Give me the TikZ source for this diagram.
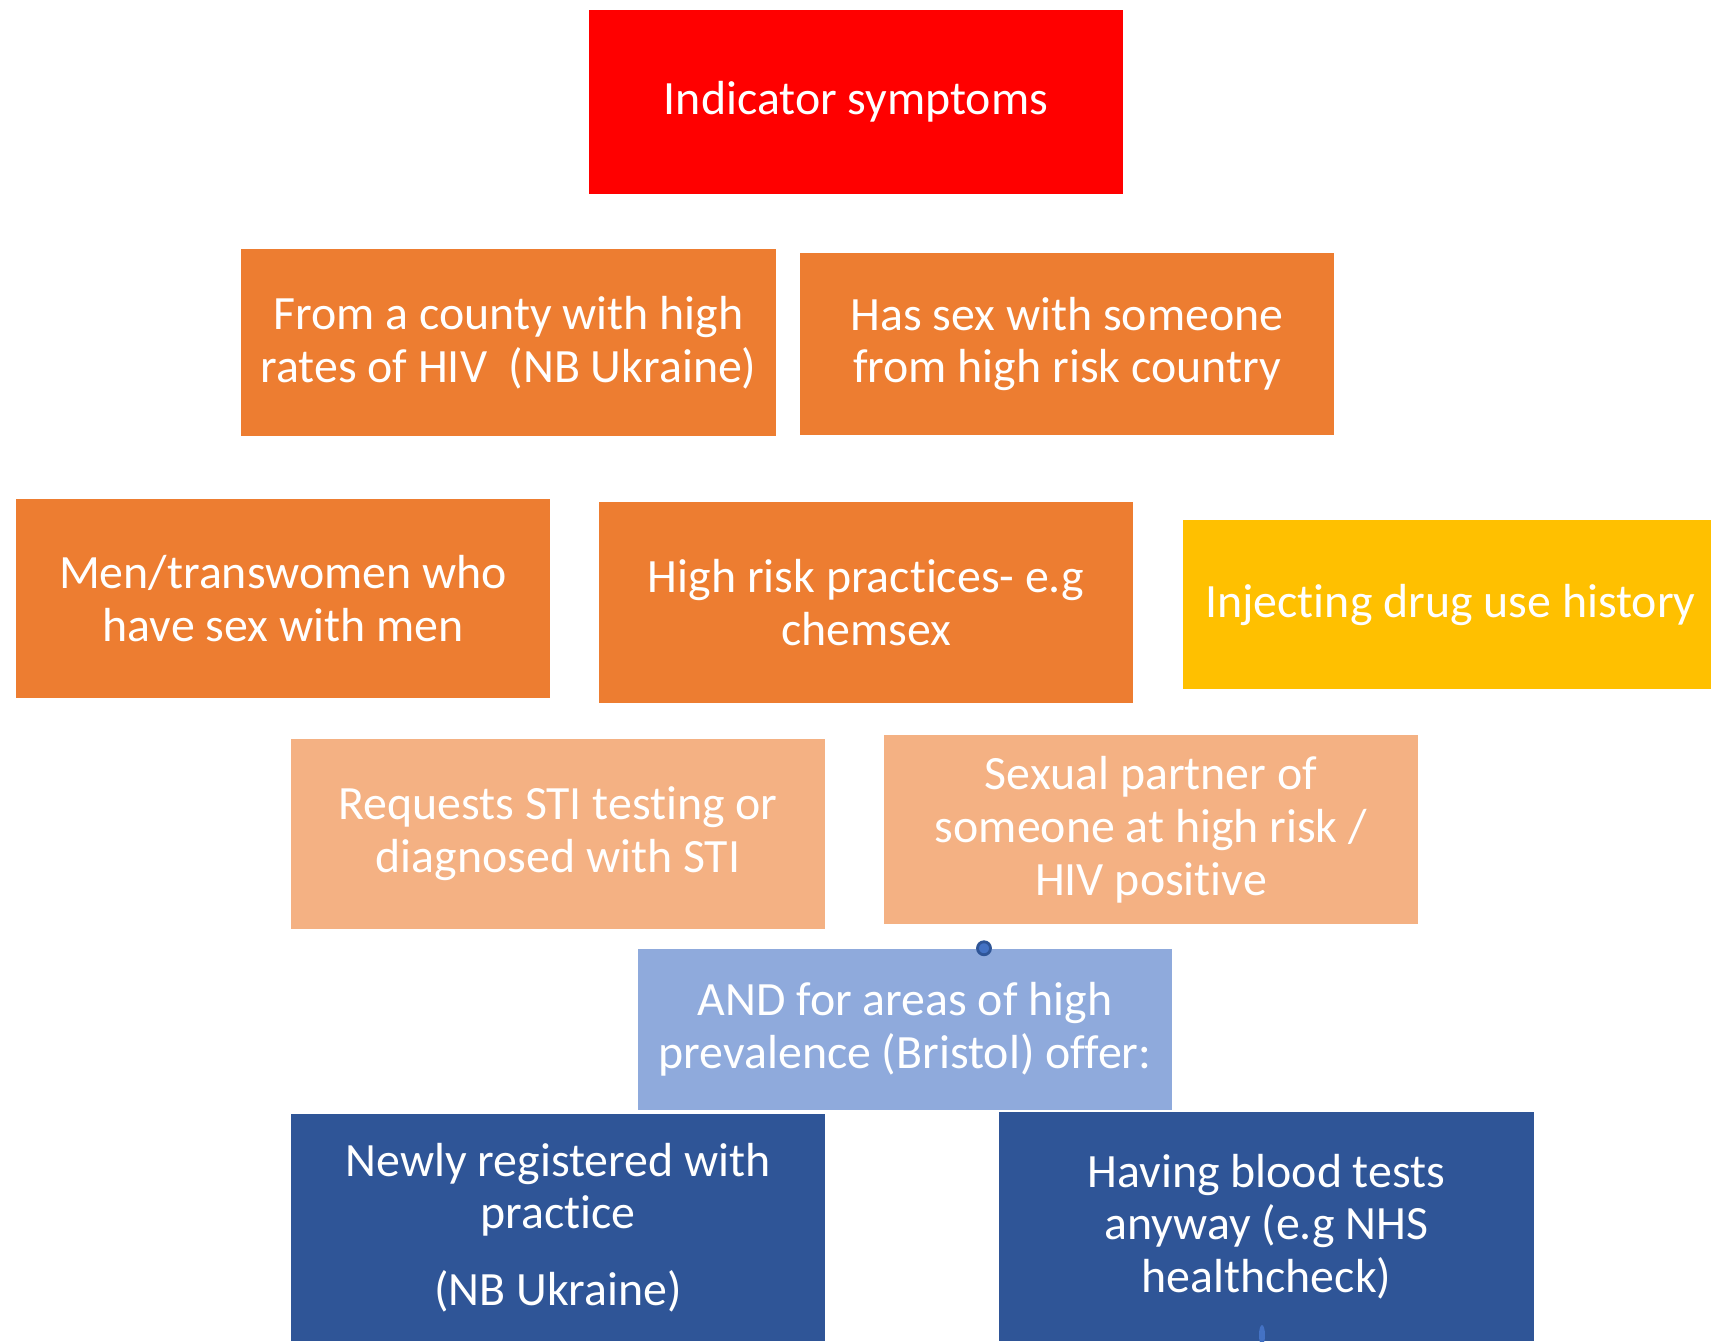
\documentclass[tikz,border=0pt]{standalone}
\usepackage{fontspec}
\setmainfont{Carlito}[Ligatures=NoCommon]
\definecolor{alertred}{HTML}{FF0000}
\definecolor{riskorange}{HTML}{ED7D31}
\definecolor{drugyellow}{HTML}{FFC000}
\definecolor{stipeach}{HTML}{F4B183}
\definecolor{arealblue}{HTML}{8FAADC}
\definecolor{offerblue}{HTML}{2F5597}
\definecolor{handleblue}{HTML}{4472C4}
\begin{document}
\begin{tikzpicture}[x=0.01cm, y=-0.01cm,
    box/.style={minimum width=5.34cm, inner sep=0pt, align=center, text=white,
      font=\fontsize{13.6}{15}\selectfont}]
    \clip (0,0) rectangle (1711,1341);
    \fill[white] (0,0) rectangle (1711,1341);
    % top row
    \node[box, fill=alertred, minimum height=1.84cm] (indicator) at (856,102) {Indicator symptoms};
    % country rows
    \node[box, fill=riskorange, minimum height=1.87cm] (county) at (508.5,342.5) {From a county with high\\rates of HIV\ \ (NB Ukraine)};
    \node[box, fill=riskorange, minimum height=1.82cm] (partnercountry) at (1067,344) {Has sex with someone\\from high risk country};
    \node[box, fill=riskorange, minimum height=1.99cm] (msm) at (283,598.5) {Men/transwomen who\\have sex with men};
    \node[box, fill=riskorange, minimum height=2.01cm] (practices) at (866,602.5) {High risk practices- e.g\\chemsex};
    \node[box, fill=drugyellow, minimum height=1.69cm] (drugs) at (1450.5,604.5) {Injecting drug use history};
    % sti row
    \node[box, fill=stipeach, minimum height=1.90cm] (sti) at (558,834) {Requests STI testing or\\diagnosed with STI};
    \node[box, fill=stipeach, minimum height=1.89cm] (partner) at (1151,829.5) {Sexual partner of\\someone at high risk /\\HIV positive};
    % prevalence
    \node[box, fill=arealblue, minimum height=1.61cm] (bristol) at (905,1029.5) {AND for areas of high\\prevalence (Bristol) offer:};
    \node[box, fill=offerblue, minimum height=2.27cm] (newreg) at (558,1227.5) {Newly registered with\\practice\\[0.24cm](NB Ukraine)};
    \node[box, fill=offerblue, minimum height=2.29cm] (bloods) at (1266.5,1226.5) {Having blood tests\\anyway (e.g NHS\\healthcheck)};
    % handles
    \node[circle, fill=handleblue, draw=offerblue, line width=0.8pt, minimum size=0.13cm, inner sep=0pt] (handle) at (bristol.north -| 984,0) {};
    \fill[handleblue] (1262,1335) ellipse [x radius=3, y radius=10];
\end{tikzpicture}
\end{document}
